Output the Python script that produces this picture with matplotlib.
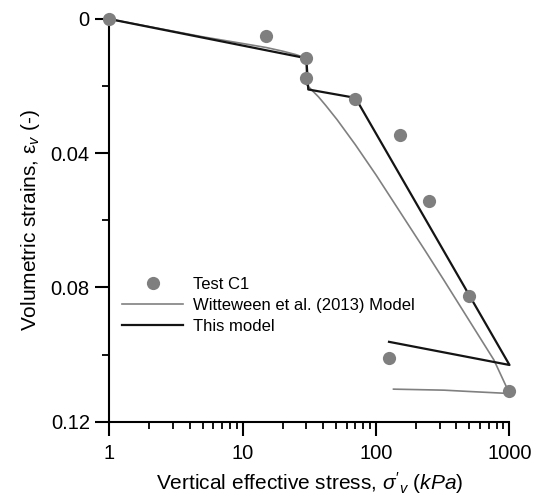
import matplotlib
matplotlib.use('Agg')
import matplotlib.pyplot as plt
from matplotlib.ticker import FixedLocator, NullFormatter, LogLocator

plt.rcParams['font.family'] = ['Liberation Sans', 'DejaVu Sans']
plt.rcParams['mathtext.fontset'] = 'custom'
plt.rcParams['mathtext.rm'] = 'Liberation Sans'
plt.rcParams['mathtext.it'] = 'Liberation Sans:italic'
plt.rcParams['axes.linewidth'] = 1.5
plt.rcParams['xtick.direction'] = 'out'
plt.rcParams['ytick.direction'] = 'out'

# Test C1 data
test_stress = [1, 15, 30, 30, 70, 150, 250, 500, 1000, 125]
test_strain = [0, 0.0051, 0.0116, 0.0176, 0.0238, 0.0346, 0.0543, 0.0826, 0.1108, 0.101]

# Witteveen et al. (2013) model
witt_stress = [1, 5, 10, 15, 20, 25, 30, 30, 33, 37, 42, 51, 70, 100, 232, 322, 764, 1000,
               500, 322, 135]
witt_strain = [0, 0.0053, 0.0073, 0.0085, 0.0096, 0.0106, 0.0117, 0.0195, 0.0212, 0.0232,
               0.0258, 0.0300, 0.0375, 0.0465, 0.0689, 0.0778, 0.1016, 0.1116,
               0.1110, 0.1106, 0.1103]

# this model
model_stress = [1, 30, 31, 70, 1000, 125]
model_strain = [0, 0.0117, 0.021, 0.0235, 0.1031, 0.0962]

yticks = [0, 0.04, 0.08, 0.12]
ytick_labels = ['0', '0.04', '0.08', '0.12']
xticks = [1, 10, 100, 1000]
xtick_labels = ['1', '10', '100', '1000']

fig = plt.figure(figsize=(5.43, 4.96), dpi=100)
ax = fig.add_axes([0.2013, 0.1498, 0.737, 0.8119])

ax.plot(witt_stress, witt_strain, color='#808080', lw=1.2, label='Witteween et al. (2013) Model',
        clip_on=False, zorder=2)
ax.plot(model_stress, model_strain, color='#141414', lw=1.6, label='This model',
        clip_on=False, zorder=3)
ax.plot(test_stress, test_strain, 'o', color='#7f7f7f', ms=9.5, mec='none', label='Test C1',
        clip_on=False, zorder=4)

ax.set_xscale('log')
ax.set_xlim(1, 1000)
ax.set_ylim(0.12, 0)
ax.set_xticks(xticks)
ax.set_xticklabels(xtick_labels)
ax.xaxis.set_minor_locator(LogLocator(base=10, subs=range(2, 10)))
ax.xaxis.set_minor_formatter(NullFormatter())
ax.set_yticks(yticks)
ax.set_yticklabels(ytick_labels)
ax.yaxis.set_minor_locator(FixedLocator([0.02, 0.06, 0.10]))

ax.tick_params(which='major', length=10, width=1.5, labelsize=14.5, pad=4)
ax.tick_params(which='minor', length=5, width=1.3)
ax.tick_params(axis='x', which='major', pad=6)

ax.spines['top'].set_visible(False)
ax.spines['right'].set_visible(False)

ax.set_xlabel(r"Vertical effective stress, $\mathit{\sigma'_{v}}$ $\mathit{(kPa)}$", fontsize=15, labelpad=5)
ax.set_ylabel(r"Volumetric strains, ε$_{v}$ (-)", fontsize=15, labelpad=6)

handles, labels = ax.get_legend_handles_labels()
order = [2, 0, 1]
ax.legend([handles[i] for i in order], [labels[i] for i in order],
          loc='upper left', bbox_to_anchor=(0.031, 0.36), frameon=False, fontsize=12,
          handlelength=3.7, handletextpad=0.6, labelspacing=0.37, borderpad=0, borderaxespad=0)

plt.savefig('out.png', dpi=100)
